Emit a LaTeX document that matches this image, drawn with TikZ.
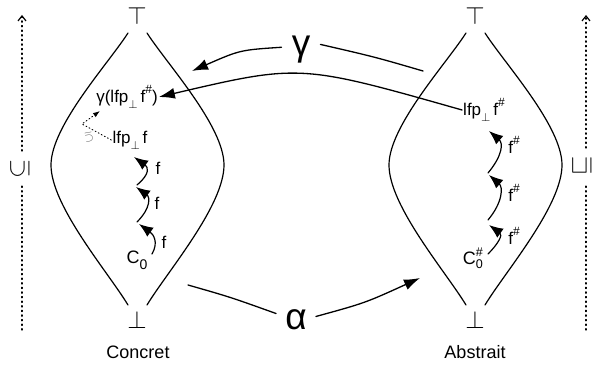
\documentclass[tikz,border=0pt]{standalone}
\usepackage{amsmath}
\usepackage{fontspec}
\setmainfont{Liberation Sans}
\usetikzlibrary{arrows.meta}

\newcommand{\up}[1]{\raisebox{0.5em}{\fontsize{12}{12}\selectfont #1}}
\newcommand{\dn}[1]{\raisebox{-0.35em}{\fontsize{12}{12}\selectfont #1}}

\tikzset{
  lbl/.style={inner sep=1pt,font=\fontsize{17}{19}\selectfont},
  title/.style={inner sep=1pt,font=\fontsize{18}{20}\selectfont},
  bigsym/.style={inner ysep=1pt,inner xsep=10pt,font=\fontsize{37}{40}\selectfont},
  latsym/.style={inner sep=1pt,font=\fontsize{25}{27}\selectfont},
  lens/.style={line width=1.2pt},
  arr/.style={line width=1.3pt,-{Latex[length=16pt,width=11pt]}},
  wig/.style={line width=1.2pt,-{Latex[length=14pt,width=11pt]}},
  order/.style={line width=1.2pt,dash pattern=on 1.3pt off 3.3pt},
  hint/.style={line width=0.9pt,dash pattern=on 1pt off 2.5pt,-{Latex[length=7pt,width=5pt]}},
}

\begin{document}
\begin{tikzpicture}[x=1pt,y=-1pt,line cap=round,line join=round]
\useasboundingbox (0,0) rectangle (592,374);

% the two lattices
\foreach \dx in {0,338}{
  \begin{scope}[xshift=\dx]
    \draw[lens] (128,33) .. controls (108,64) and (51,126) .. (51,165)
      .. controls (51,206) and (108,272) .. (128,305);
    \draw[lens] (147,33) .. controls (167,64) and (224,126) .. (224,165)
      .. controls (224,206) and (167,272) .. (147,305);
  \end{scope}
}

% top and bottom
\node[latsym] (topC) at (137,16) {$\top$};
\node[latsym] (botC) at (137,320) {$\perp$};
\node[latsym] (topA) at (475,16) {$\top$};
\node[latsym] (botA) at (475,320) {$\perp$};

% names of the domains
\node[title] (conc) at (138,352) {Concret};
\node[title] (abst) at (475,352) {Abstrait};

% order on each side
\node[latsym,inner sep=0pt] (incC) at (20,169) {\rotatebox{90}{$\subseteq$}};
\coordinate (incCb) at (22,330);
\coordinate (incClo) at (22,186);
\coordinate (incChi) at (22,151);
\coordinate (incCt) at (22,15);
\draw[order] (incCb) -- (incClo);
\draw[order,-{Straight Barb[length=5pt,width=8pt]}] (incChi) -- (incCt);

\node[latsym,inner sep=0pt] (incA) at (582,166) {\rotatebox{90}{$\sqsubseteq$}};
\coordinate (incAb) at (586,330);
\coordinate (incAlo) at (586,184);
\coordinate (incAhi) at (586,148);
\coordinate (incAt) at (586,15);
\draw[order] (incAb) -- (incAlo);
\draw[order,-{Straight Barb[length=5pt,width=8pt]}] (incAhi) -- (incAt);

% gamma and alpha
\node[bigsym] (gamma) at (301,50) {γ};
\coordinate (gsrc) at (423,71);
\coordinate (gtip) at (192,71);
\draw[line width=1.3pt] (gsrc) .. controls (375,57) .. (gamma.16);
\draw[arr] (gamma.172) .. controls (240,50) .. (gtip);

\node[bigsym,inner xsep=9pt] (alpha) at (296,320) {α};
\coordinate (asrc) at (188,285);
\coordinate (atip) at (420,278);
\draw[line width=1.3pt] (asrc) .. controls (230,297) .. (alpha.162);
\draw[arr] (alpha.10) .. controls (365,303) .. (atip);

% concrete side
\node[lbl] (gl) at (127,97) {γ(lfp\dn{$\perp$}\,f\up{\#})};
\node[lbl] (lfpC) at (130,140) {lfp\dn{$\perp$}\,f};
\node[lbl] (c0) at (137,260) {\fontsize{18}{20}\selectfont C\dn{\fontsize{14}{14}\selectfont 0}};

\coordinate (s1) at (152,254);
\coordinate (t1) at (139,224);
\coordinate (s2) at (137,222);
\coordinate (t2) at (136,187);
\coordinate (s3) at (137,185);
\coordinate (t3) at (134,157);
\draw[wig] (s1) .. controls +(7,-12) and +(14,10) .. (t1);
\draw[wig] (s2) .. controls +(14,-14) and +(14,10) .. (t2);
\draw[wig] (s3) .. controls +(14,-12) and +(14,10) .. (t3);
\node[lbl] (f1) at (164,242) {f};
\node[lbl] (f2) at (157,203) {f};
\node[lbl] (f3) at (158,168) {f};

\coordinate (hc) at (82,124);
\coordinate (ht) at (100,111);
\draw[hint] (lfpC.west) -- (hc) -- (ht);
\node[inner sep=0pt,text=black!65,font=\fontsize{13}{13}\selectfont] (hl) at (89,137) {\rotatebox{190}{$\subseteq$}};

% abstract side
\node[lbl] (lfpA) at (484,110) {lfp\dn{$\perp$}\,f\up{\#}};
\node[lbl] (c0a) at (473,258) {\fontsize{18}{20}\selectfont $\text{C}^{\text{\#}}_{\text{0}}$};

\coordinate (s4) at (488,254);
\coordinate (t4) at (489,225);
\coordinate (s5) at (488,220);
\coordinate (t5) at (489,175);
\coordinate (s6) at (488,173);
\coordinate (t6) at (489,131);
\draw[wig] (s4) .. controls +(10,-10) and +(14,10) .. (t4);
\draw[wig] (s5) .. controls +(15,-18) and +(14,12) .. (t5);
\draw[wig] (s6) .. controls +(15,-18) and +(14,12) .. (t6);
\node[lbl] (fa1) at (514,236) {f\up{\#}};
\node[lbl] (fa2) at (514,193) {f\up{\#}};
\node[lbl] (fa3) at (514,145) {f\up{\#}};

% gamma of the abstract fixpoint
\draw[arr] (lfpA.west) .. controls (300,64) .. (gl.east);

\end{tikzpicture}
\end{document}
